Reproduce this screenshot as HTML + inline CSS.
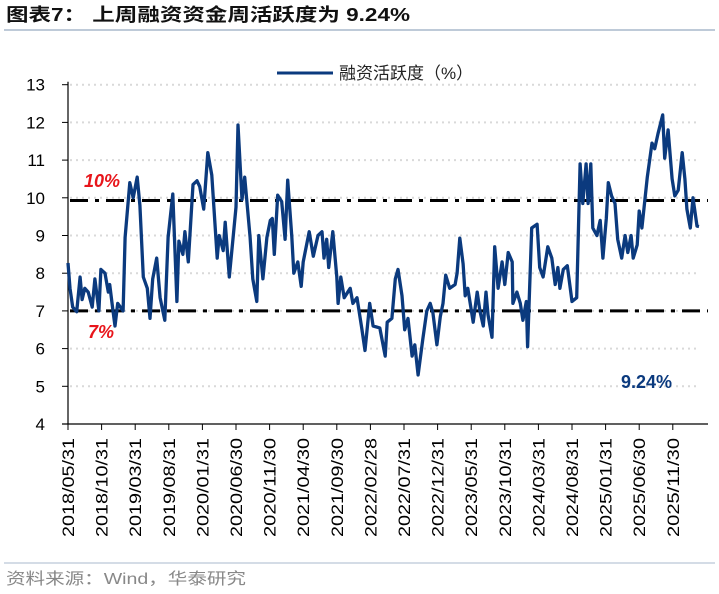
<!DOCTYPE html>
<html><head><meta charset="utf-8">
<style>
body{margin:0;background:#fff;}
svg{display:block;font-family:"Liberation Sans","Noto Sans CJK SC",sans-serif;}
</style></head>
<body>
<svg id="chart" width="719" height="594" viewBox="0 0 719 594">
  <text x="6" y="21" font-size="18" font-weight="bold" fill="#111" textLength="404" lengthAdjust="spacingAndGlyphs">图表7：  上周融资资金周活跃度为 9.24%</text>
  <line x1="4" y1="30" x2="715" y2="30" stroke="#a9b9cc" stroke-width="1.5"/>
  <g id="grid"></g>
  <g id="ref"></g>
  <g id="axes"></g>
  <path id="series" fill="none" stroke="#0b3a7e" stroke-width="3.3" stroke-linejoin="round"/>
  <g>
    <line x1="277" y1="73" x2="333" y2="73" stroke="#0b3a7e" stroke-width="3"/>
    <text x="339" y="79" font-size="17" fill="#222">融资活跃度（%）</text>
  </g>
  <text x="84" y="187" font-size="18" font-weight="bold" font-style="italic" fill="#e8151b">10%</text>
  <text x="88" y="338" font-size="18" font-weight="bold" font-style="italic" fill="#e8151b">7%</text>
  <text x="621" y="388" font-size="18" font-weight="bold" fill="#0b3a7e">9.24%</text>
  <line x1="4" y1="563" x2="715" y2="563" stroke="#a9b9cc" stroke-width="1"/>
  <text x="6" y="584" font-size="16" fill="#888" textLength="240" lengthAdjust="spacingAndGlyphs">资料来源：Wind，华泰研究</text>
</svg>
<script>
const months=[0,0.3,0.7,1.3,1.8,2.1,2.5,3.0,3.6,4.0,4.6,4.9,5.5,6.0,6.2,6.7,7.0,7.4,8.2,8.5,9.2,9.7,10.3,10.7,11.2,11.8,12.2,12.6,13.2,13.7,14.4,14.9,15.6,16.2,16.5,17.1,17.4,17.9,18.6,19.2,19.6,20.2,20.8,21.4,22.2,22.5,23.1,23.4,24.0,24.6,25.0,25.3,25.9,26.3,27.1,27.5,28.1,28.4,29.0,29.6,30.1,30.4,30.7,31.2,31.8,32.3,32.7,33.3,33.6,34.2,34.7,35.0,35.9,36.5,37.2,37.8,38.1,38.5,38.8,39.4,40.0,40.2,40.6,41.1,42.0,42.4,43.0,43.7,44.2,44.9,45.4,46.4,47.2,47.5,48.2,48.7,49.1,49.7,50.1,50.6,51.2,51.6,52.1,52.8,53.4,53.9,54.3,54.9,55.4,55.8,56.2,56.8,57.6,57.9,58.3,58.8,59.1,59.5,60.3,60.9,61.3,61.8,62.2,62.5,63.1,63.5,64.0,64.6,65.0,65.5,66.1,66.2,66.8,67.3,67.7,68.2,68.4,69.0,69.8,70.2,70.7,71.4,72.0,72.5,72.9,73.2,73.7,74.3,75.0,75.7,76.2,76.6,77.1,77.4,77.8,78.1,78.7,79.2,79.6,80.1,80.4,80.9,81.4,81.8,82.4,82.9,83.3,83.8,84.1,84.7,85.0,85.4,86.2,86.9,87.3,87.8,88.5,88.8,89.3,89.9,90.3,90.8,91.4,91.8,92.1,92.6,93.0,93.6,93.9];
const values=[8.27,7.6,7.1,6.98,7.9,7.3,7.6,7.5,7.1,7.85,7.0,8.1,8.0,7.5,7.7,7.0,6.6,7.2,7.0,8.95,10.4,10.0,10.55,9.8,7.9,7.6,6.8,7.85,8.4,7.35,6.75,8.95,10.1,7.25,8.85,8.5,9.1,8.3,10.35,10.45,10.3,9.7,11.2,10.6,8.4,9.0,8.6,9.35,7.9,9.0,9.75,11.93,9.95,10.55,8.95,7.85,7.25,9.0,7.85,8.95,9.4,9.45,8.5,10.07,9.9,8.9,10.47,8.97,8.0,8.3,7.65,8.3,9.1,8.45,9.0,9.1,8.4,8.9,8.15,9.1,7.9,7.2,7.9,7.35,7.6,7.2,7.35,6.55,5.95,7.2,6.6,6.55,5.8,6.7,6.8,7.85,8.1,7.4,6.5,6.8,5.8,6.1,5.3,6.25,7.0,7.2,6.95,6.1,6.85,7.2,7.95,7.6,7.7,8.0,8.93,8.25,7.4,7.6,6.7,7.5,7.0,6.6,7.5,6.9,6.3,8.7,7.6,8.3,7.7,8.55,8.3,7.2,7.5,7.2,6.75,7.25,6.05,9.2,9.3,8.15,7.9,8.7,8.4,7.7,8.15,7.6,8.1,8.2,7.25,7.35,10.9,9.85,10.9,9.85,10.9,9.2,9.0,9.4,8.4,9.45,10.4,10.05,9.85,8.9,8.4,9.0,8.55,9.0,8.4,8.75,9.65,9.2,10.55,11.45,11.3,11.7,12.2,11.05,11.8,10.5,10.05,10.2,11.2,10.5,9.7,9.2,10.0,9.25,9.24];
const yTicks=[4,5,6,7,8,9,10,11,12,13];
const xTickLabels=["2018/05/31","2018/10/31","2019/03/31","2019/08/31","2020/01/31","2020/06/30","2020/11/30","2021/04/30","2021/09/30","2022/02/28","2022/07/31","2022/12/31","2023/05/31","2023/10/31","2024/03/31","2024/08/31","2025/01/31","2025/06/30","2025/11/30"];
const refLevels=[9.93,7.0];

const NS="http://www.w3.org/2000/svg";
const X=m=>68+m*6.72;
const Y=v=>84.7+(13-v)*37.7;
function mk(tag,attrs,parent){const e=document.createElementNS(NS,tag);for(const k in attrs)e.setAttribute(k,attrs[k]);parent.appendChild(e);return e;}
const grid=document.getElementById('grid'),axes=document.getElementById('axes'),ref=document.getElementById('ref');
yTicks.forEach(v=>{
  if(v>4){const g=mk('line',{x1:70,x2:700,y1:Y(v),y2:Y(v),stroke:'#d9d9d9','stroke-width':2,'stroke-dasharray':'2,4'},grid);
  
  }
  const t=mk('line',{x1:62,x2:68,y1:Y(v),y2:Y(v),stroke:'#000','stroke-width':1},axes);
  
  
  const l=mk('text',{x:45,y:Y(v)+6,'font-size':17,'text-anchor':'end',fill:'#000'},axes);
  
  
  l.textContent=v;
});
refLevels.forEach(v=>{
  const r=mk('line',{x1:70,x2:708,y1:Y(v),y2:Y(v),stroke:'#000','stroke-width':3,'stroke-dasharray':'18,7,4,7'},ref);
  
  
});
const ya=mk('line',{x1:68,x2:68,y1:Y(13)-3,y2:Y(4),stroke:'#000','stroke-width':1.2},axes);


const xa=mk('line',{x1:62,x2:708,y1:Y(4),y2:Y(4),stroke:'#000','stroke-width':1.2},axes);


xTickLabels.forEach((s,i)=>{
  const x=X(i*5);
  const t=mk('line',{x1:x,x2:x,y1:Y(4),y2:Y(4)+6,stroke:'#000','stroke-width':1},axes);
  
  
  const l=mk('text',{x:0,y:0,'font-size':17,'text-anchor':'end',fill:'#000',textLength:99,lengthAdjust:'spacingAndGlyphs',transform:`translate(${x+6},438) rotate(-90)`},axes);
  
  
  l.textContent=s;
});
document.getElementById('series').setAttribute('d',months.map((m,i)=>(i?'L':'M')+X(m).toFixed(1)+','+Y(values[i]).toFixed(1)).join(''));
</script>
</body></html>
